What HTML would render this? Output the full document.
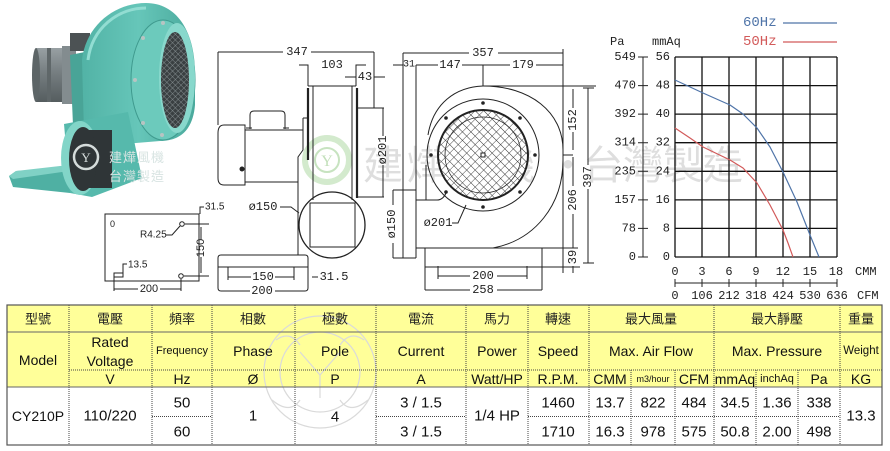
<!DOCTYPE html>
<html><head><meta charset="utf-8">
<style>
html,body{margin:0;padding:0;background:#fff;}
svg{display:block;}
.d{font-family:"Liberation Mono","DejaVu Sans Mono",monospace;font-size:12px;fill:#222;}
.s{font-family:"Liberation Sans",sans-serif;font-size:10px;fill:#222;}
.t{font-family:"Liberation Sans","Noto Sans CJK TC",sans-serif;fill:#111;}
.c{font-family:"Liberation Sans","Noto Sans CJK TC",sans-serif;font-size:13px;fill:#222;}
</style></head><body>
<svg width="890" height="451" viewBox="0 0 890 451" xmlns="http://www.w3.org/2000/svg">
<defs>
<pattern id="mesh" width="6" height="6" patternUnits="userSpaceOnUse" patternTransform="rotate(45)">
<rect width="6" height="6" fill="#fff"/>
<path d="M0 0H6M0 0V6" stroke="#333" stroke-width="0.9" fill="none"/>
</pattern>
<pattern id="pmesh" width="4" height="4" patternUnits="userSpaceOnUse" patternTransform="rotate(45)">
<rect width="4" height="4" fill="#3a4042"/>
<path d="M0 0H4M0 0V4" stroke="#9aa4a6" stroke-width="0.7" fill="none"/>
</pattern>
<linearGradient id="mg" x1="0" y1="0" x2="0" y2="1">
<stop offset="0" stop-color="#98a0a3"/><stop offset="0.45" stop-color="#767e81"/><stop offset="1" stop-color="#555d5f"/>
</linearGradient>
<linearGradient id="hg" x1="0" y1="0" x2="1" y2="0">
<stop offset="0" stop-color="#52b3a6"/><stop offset="0.5" stop-color="#66c6b9"/><stop offset="1" stop-color="#4aa99c"/>
</linearGradient>
</defs>

<!-- ===== watermark text ===== -->
<g font-family="'Noto Sans CJK TC','WenQuanYi Zen Hei',sans-serif" font-size="40" fill="#dedede">
<text x="363" y="179" letter-spacing="4">建燁風機</text>
<text x="548" y="179">・</text>
<text x="583" y="179">台灣製造</text>
</g>
<!-- green logo -->
<g fill="none">
<circle cx="327" cy="160" r="22" stroke="#d3eacd" stroke-width="6"/>
<circle cx="327" cy="160" r="12" stroke="#c7e3c0" stroke-width="2"/>
<text x="327" y="166" text-anchor="middle" font-family="'Liberation Serif',serif" font-size="16" fill="#c3e0bb">Y</text>
</g>

<!-- ===== photo ===== -->
<g>
<polygon points="9,176 13,187 70,193 138,172 133,163 60,168 16,171" fill="#4fb0a3"/>
<polygon points="9,176 16,171 60,166 133,160 136,165 62,172 13,179" fill="#80d1c5"/>
<rect x="36" y="48" width="40" height="54" fill="url(#mg)"/>
<ellipse cx="36" cy="75" rx="4" ry="27" fill="#5d6567"/>
<rect x="47" y="48" width="4" height="54" fill="#5f6769"/>
<rect x="62" y="46" width="14" height="58" fill="#838c8f"/>
<rect x="70" y="33" width="20" height="18" fill="#4c5254"/>
<path d="M70 55 L95 50 L100 148 L75 172 Z" fill="#49a497"/>
<path d="M82 60 C 86 25 115 3 146 3 C 176 3 194 30 195 70 L 195 105 C 193 130 180 141 160 141 L 100 146 L 84 132 Z" fill="url(#hg)"/>
<path d="M88 60 C 92 28 118 8 146 8" stroke="#92ddd2" stroke-width="3" fill="none"/>
<ellipse cx="163" cy="80" rx="32" ry="60" fill="#6ccabc" stroke="#3f9a8e" stroke-width="1"/>
<g fill="#b8c4c2"><circle cx="163" cy="23" r="2"/><circle cx="143" cy="38" r="2"/><circle cx="135" cy="80" r="2"/><circle cx="143" cy="123" r="2"/><circle cx="162" cy="135" r="2"/></g>
<ellipse cx="177" cy="78" rx="18" ry="55" fill="#88d8cc"/>
<ellipse cx="175" cy="80" rx="14" ry="48" fill="url(#pmesh)"/>
<path d="M64 124 L128 112 L142 178 L92 197 L70 193 Z" fill="#56b9ac"/>
<ellipse cx="80" cy="158" rx="19" ry="37" fill="#82d5c8"/>
<rect x="82" y="130" width="30" height="58" fill="#2f3537"/>
<ellipse cx="83" cy="159" rx="14" ry="32" fill="#2f3537"/>
<circle cx="86" cy="157" r="12" fill="none" stroke="#d5dcdb" stroke-width="2.5"/>
<text x="86" y="162" text-anchor="middle" font-family="'Liberation Serif',serif" font-size="13" fill="#d5dcdb">Y</text>
<g font-family="'Noto Sans CJK TC',sans-serif" font-size="13" fill="#d8e4e2" letter-spacing="1">
<text x="109" y="162">建燁風機</text><text x="109" y="181">台灣製造</text></g>
</g>

<!-- ===== side view ===== -->
<g stroke="#222" stroke-width="1" fill="none">
<path d="M218 52H283M311 52H374M218 52V125M374 52V108"/>
<path d="M299 65H308V86M356 86V65H366"/>
<path d="M345 77H356M374 77H385"/>
<path d="M308 86H356M313 86V200M352 86V200"/>
<path d="M308 88V160" stroke-width="2.2"/>
<path d="M357 88V198" stroke-width="2.2"/>
<path d="M357 108H384M357 197H384M383 108V136M383 165V197"/>
<path d="M245 125H224Q218 125 218 133V178Q218 185 224 185H245Z"/>
<path d="M245 130H303M245 182H298"/>
<path d="M250 129V115Q250 111 254 111H281Q285 111 285 115V129M246 128H252M283 128H289"/>
<path d="M303 118H308M303 118V150L298 157V255"/>
<circle cx="332" cy="225" r="33" stroke-width="1.3"/>
<rect x="310" y="203" width="45" height="44"/>
<path d="M280 207H291L299 213"/>
<path d="M218 288V258Q218 255 221 255H305Q308 255 308 258V288M218 288Q218 291 221 291H250M275 291H305Q308 291 308 288"/>
<path d="M218 267H308"/>
<path d="M228 267V280M294 267V280M228 277H251M275 277H294"/>
<path d="M312 277H318"/>
</g>
<circle cx="242" cy="169" r="2.5" fill="#222"/>
<g class="d" text-anchor="middle" dominant-baseline="central">
<text x="297" y="52">347</text>
<text x="332" y="65">103</text>
<text x="365" y="77">43</text>
<text x="263" y="207">ø150</text>
<text x="263" y="277">150</text>
<text x="262" y="291">200</text>
<text x="334" y="277">31.5</text>
<text transform="translate(383,150) rotate(-90)">ø201</text>
</g>

<!-- ===== plan view ===== -->
<g stroke="#222" stroke-width="1" fill="none">
<rect x="105" y="214" width="94" height="67"/>
<circle cx="182" cy="224" r="2.3"/>
<path d="M185 224H209"/>
<path d="M166 235H172L180 226"/>
<path d="M201 227V240M201 257V273"/>
<path d="M200 214V207H204"/>
<path d="M123 277V264H127"/>
<rect x="114" y="273" width="9" height="4"/>
<circle cx="181" cy="276" r="2.3"/>
<path d="M184 276H209"/>
<path d="M114 277V291M181 279V291M114 289H138M160 289H181"/>
</g>
<g class="s" dominant-baseline="central">
<text x="110" y="224" font-size="9">0</text>
<text x="140" y="235">R4.25</text>
<text x="205" y="207">31.5</text>
<text x="128" y="265">13.5</text>
<text x="149" y="289" text-anchor="middle" font-size="11">200</text>
<text transform="translate(201,248) rotate(-90)" text-anchor="middle" font-size="11">150</text>
</g>

<!-- ===== front view ===== -->
<g stroke="#222" stroke-width="1" fill="none">
<path d="M403 53H469M498 53H563M563 49V273"/>
<path d="M393 65H403M416 65H438M462 65H510M536 65H563"/>
<path d="M483 65V86M483 86H596"/>
<path d="M403 53V258M416 65V258"/>
<path d="M393 190H416M393 258H416M393 190V205M393 243V258"/>
<path d="M483 86C530 86 563 112 563 150L563 160C563 205 535 240 493 248L416 248"/>
<path d="M483 86C455 87 433 104 428 135"/>
<path d="M416 200H437Q443 200 446 193M426 165V200"/>
<circle cx="483" cy="155" r="56"/>
<circle cx="483" cy="155" r="45" fill="url(#mesh)" stroke-width="2"/>
<circle cx="483" cy="155" r="38" stroke-width="0.8"/>
<rect x="481" y="153" width="4" height="4" fill="#fff"/>
<path d="M425 248V290M542 248V290M425 267H580"/>
<path d="M438 266V279M527 266V279M438 276H470M497 276H527"/>
<path d="M425 290H470M497 290H542"/>
<path d="M563 155H573M493 248H578"/>
<path d="M573 89V108M573 132V150M573 157V186M573 214V248M573 266V273"/>
<path d="M588 88V165M588 189V263M583 88H594M583 263H594"/>
<path d="M452 223H458L466 205"/>
</g>
<g fill="#222">
<circle cx="483" cy="103" r="1.8"/><circle cx="520" cy="118" r="1.8"/><circle cx="535" cy="155" r="1.8"/><circle cx="520" cy="192" r="1.8"/>
<circle cx="483" cy="207" r="1.8"/><circle cx="446" cy="192" r="1.8"/><circle cx="431" cy="155" r="1.8"/><circle cx="446" cy="118" r="1.8"/>
</g>
<g class="d" text-anchor="middle" dominant-baseline="central">
<text x="483" y="53">357</text>
<text x="409" y="65" font-size="10">31</text>
<text x="450" y="65">147</text>
<text x="523" y="65">179</text>
<text x="483" y="276">200</text>
<text x="483" y="290">258</text>
<text x="438" y="223">ø201</text>
<text transform="translate(392,224) rotate(-90)">ø150</text>
<text transform="translate(573,120) rotate(-90)">152</text>
<text transform="translate(573,200) rotate(-90)">206</text>
<text transform="translate(573,257) rotate(-90)">39</text>
<text transform="translate(588,177) rotate(-90)">397</text>
</g>

<!-- ===== chart ===== -->
<g stroke="#111" stroke-width="1.3" fill="none">
<path d="M675 57V257M702 57V257M729 57V257M756 57V257M783 57V257M810 57V257M837 57V257"/>
<path d="M675 57H837M675 85.6H837M675 114.1H837M675 142.7H837M675 171.3H837M675 199.9H837M675 228.4H837M675 257H837"/>
</g>
<g stroke="#222" stroke-width="1" fill="none">
<path d="M643 57V257M638 57H648M638 85.6H648M638 114.1H648M638 142.7H648M638 171.3H648M638 199.9H648M638 228.4H648M638 257H648"/>
<path d="M675 283H837M675 279V287M702 279V287M729 279V287M756 279V287M783 279V287M810 279V287M837 279V287"/>
</g>
<polyline points="675,80 703,93 730,105 743,114 757,128 770,147 783,172 797,202 810,235 819,257" fill="none" stroke="#4f74a8" stroke-width="1.2" stroke-linejoin="round"/>
<polyline points="675,128 690,138 703,147 730,160 743,168 757,183 770,205 783,230 788,243 793,257" fill="none" stroke="#d25a5a" stroke-width="1.2" stroke-linejoin="round"/>
<path d="M783 23H837" stroke="#4f74a8" stroke-width="1.2"/>
<path d="M783 42H837" stroke="#d25a5a" stroke-width="1.2"/>
<g class="d" font-size="13" dominant-baseline="central">
<text x="743" y="23" fill="#4f74a8" font-size="14">60Hz</text>
<text x="743" y="42" fill="#d25a5a" font-size="14">50Hz</text>
<text x="610" y="42">Pa</text>
<text x="652" y="42">mmAq</text>
<g text-anchor="end">
<text x="636" y="57">549</text><text x="636" y="85.6">470</text><text x="636" y="114.1">392</text><text x="636" y="142.7">314</text>
<text x="636" y="171.3">235</text><text x="636" y="199.9">157</text><text x="636" y="228.4">78</text><text x="636" y="257">0</text>
<text x="670" y="57">56</text><text x="670" y="85.6">48</text><text x="670" y="114.1">40</text><text x="670" y="142.7">32</text>
<text x="670" y="171.3">24</text><text x="670" y="199.9">16</text><text x="670" y="228.4">8</text><text x="670" y="257">0</text>
</g>
<g text-anchor="middle">
<text x="675" y="272">0</text><text x="702" y="272">3</text><text x="729" y="272">6</text><text x="756" y="272">9</text><text x="783" y="272">12</text><text x="810" y="272">15</text><text x="836" y="272">18</text>
<text x="675" y="296">0</text><text x="702" y="296">106</text><text x="729" y="296">212</text><text x="756" y="296">318</text><text x="783" y="296">424</text><text x="810" y="296">530</text><text x="837" y="296">636</text>
</g>
<text x="855" y="272">CMM</text>
<text x="857" y="296">CFM</text>
</g>

<!-- ===== table ===== -->
<rect x="7" y="305" width="875" height="82" fill="#ffff99"/>
<rect x="7" y="387" width="875" height="58" fill="#fff"/>
<g fill="none" stroke="#dadada" stroke-width="1.2">
<circle cx="320" cy="372" r="56"/>
<circle cx="320" cy="372" r="40"/>
<path d="M300 352L320 375L340 352M320 375V398"/>
<path d="M276 340Q290 330 300 345M364 340Q350 330 340 345M272 400Q290 415 300 400M368 400Q350 415 340 400"/>
</g>
<g stroke="#666" stroke-width="1" fill="none">
<path d="M7 332H882M7 387H882"/>
</g>
<g stroke="#444" stroke-width="1" stroke-dasharray="1,1" fill="none">
<path d="M69 370H882"/>
<path d="M152 416.5H212M376 416.5H466M528 416.5H840"/>
<path d="M69 305V445M152 305V445M212 305V445M295 305V445M376 305V445M466 305V445M528 305V445M589 305V445M714 305V445M840 305V445"/>
<path d="M631 370V445M675 370V445M756 370V445M798 370V445"/>
</g>
<rect x="7" y="305" width="875" height="140" fill="none" stroke="#555" stroke-width="1.2"/>
<g class="c" text-anchor="middle" dominant-baseline="central">
<text x="38" y="319">型號</text><text x="110" y="319">電壓</text><text x="182" y="319">頻率</text><text x="253" y="319">相數</text>
<text x="335" y="319">極數</text><text x="421" y="319">電流</text><text x="497" y="319">馬力</text><text x="558" y="319">轉速</text>
<text x="651" y="319">最大風量</text><text x="777" y="319">最大靜壓</text><text x="861" y="319">重量</text>
</g>
<g class="t" font-size="14" text-anchor="middle" dominant-baseline="central">
<text x="38" y="360">Model</text>
<text x="110" y="342">Rated</text><text x="110" y="361">Voltage</text>
<text x="182" y="351" font-size="11">Frequency</text>
<text x="253" y="351">Phase</text><text x="335" y="351">Pole</text><text x="421" y="351">Current</text>
<text x="497" y="351">Power</text><text x="558" y="351">Speed</text>
<text x="651" y="351">Max. Air Flow</text><text x="777" y="351">Max. Pressure</text>
<text x="861" y="351" font-size="11.5">Weight</text>
<text x="110" y="379">V</text><text x="182" y="379">Hz</text><text x="253" y="379">Ø</text><text x="335" y="379">P</text>
<text x="421" y="379">A</text><text x="497" y="379">Watt/HP</text><text x="558" y="379">R.P.M.</text>
<text x="610" y="379">CMM</text><text x="653" y="379" font-size="9">m3/hour</text><text x="694" y="379">CFM</text>
<text x="735" y="379">mmAq</text><text x="777" y="379" font-size="11">inchAq</text><text x="819" y="379">Pa</text><text x="861" y="379">KG</text>
</g>
<g class="t" font-size="15" text-anchor="middle" dominant-baseline="central">
<text x="38" y="416" font-size="14">CY210P</text><text x="110" y="416">110/220</text>
<text x="182" y="403">50</text><text x="182" y="432">60</text>
<text x="253" y="416">1</text><text x="335" y="417">4</text>
<text x="421" y="403">3 / 1.5</text><text x="421" y="432">3 / 1.5</text>
<text x="497" y="416">1/4 HP</text>
<text x="558" y="403">1460</text><text x="558" y="432">1710</text>
<text x="610" y="403">13.7</text><text x="653" y="403">822</text><text x="694" y="403">484</text>
<text x="735" y="403">34.5</text><text x="777" y="403">1.36</text><text x="819" y="403">338</text>
<text x="610" y="432">16.3</text><text x="653" y="432">978</text><text x="694" y="432">575</text>
<text x="735" y="432">50.8</text><text x="777" y="432">2.00</text><text x="819" y="432">498</text>
<text x="861" y="416">13.3</text>
</g>
</svg>
</body></html>
